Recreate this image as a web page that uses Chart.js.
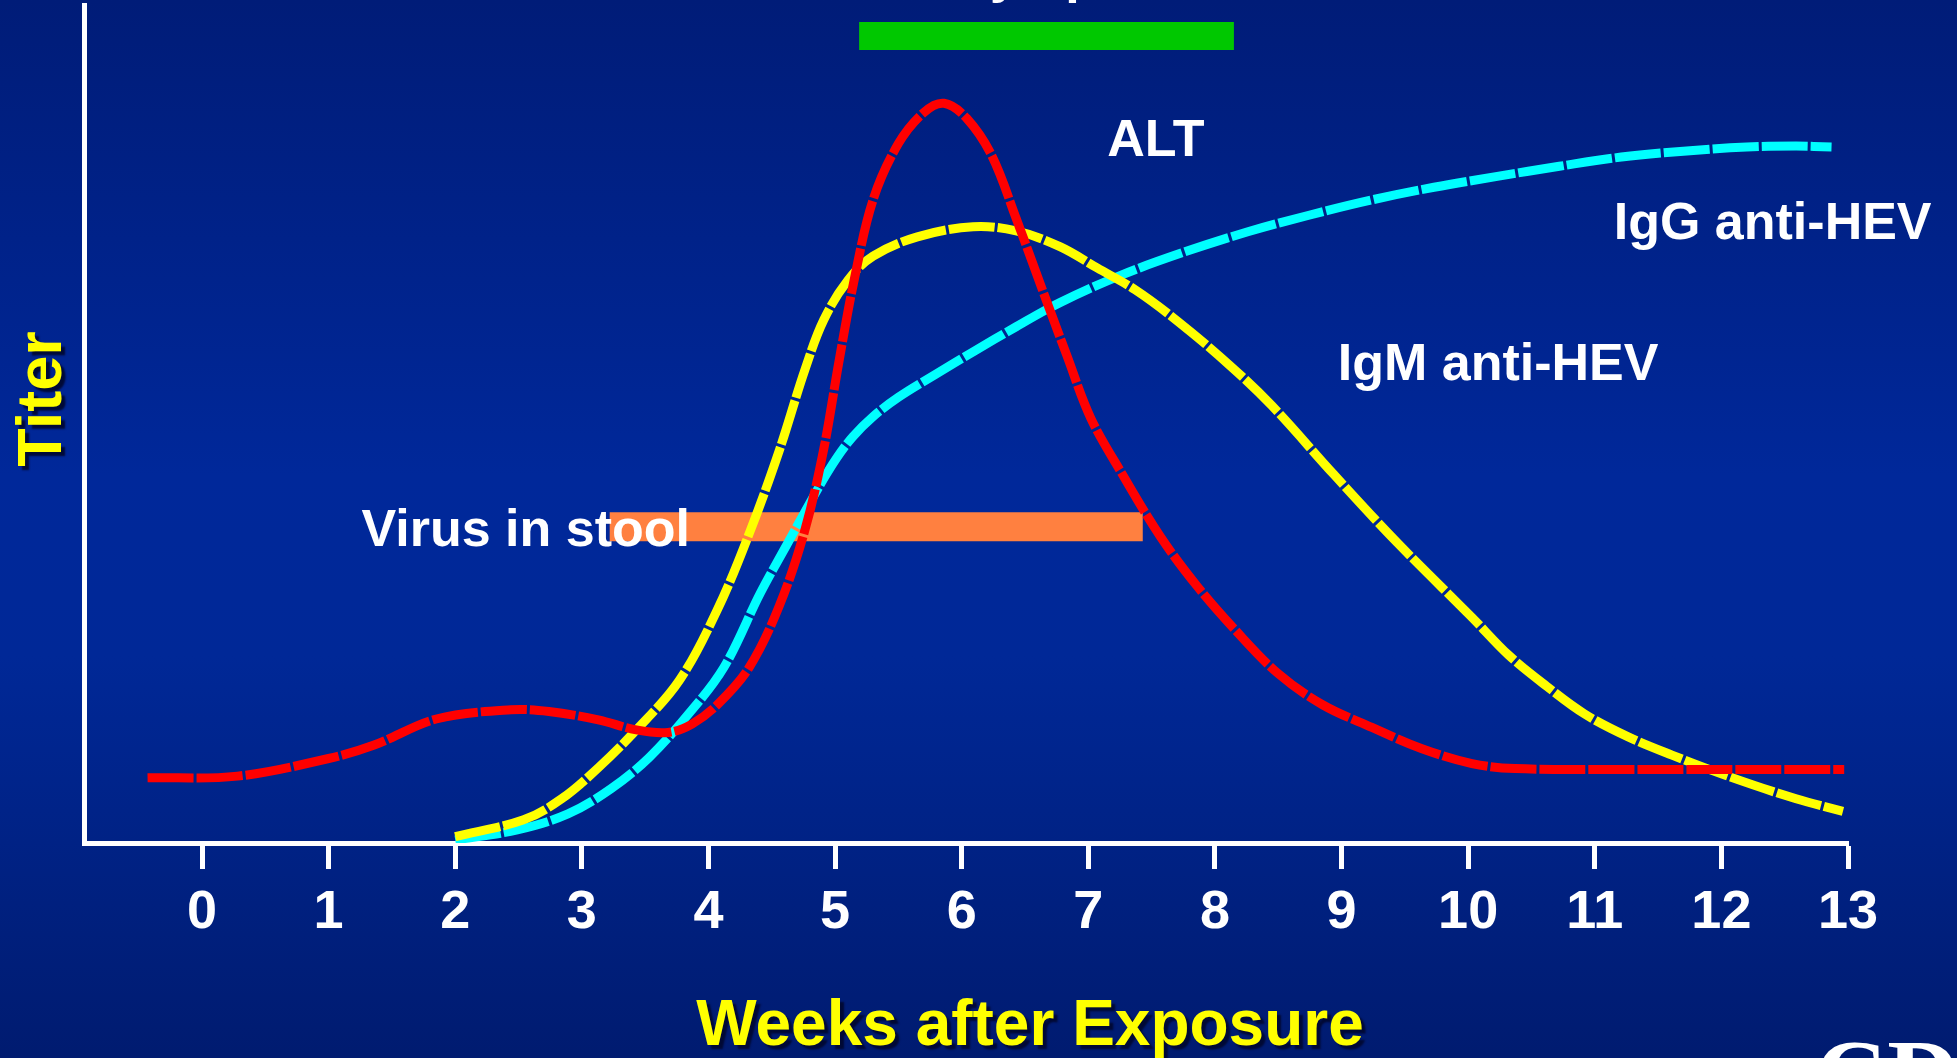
<!DOCTYPE html>
<html>
<head>
<meta charset="utf-8">
<title>Hepatitis E – typical serologic course</title>
<script src="https://cdn.jsdelivr.net/npm/chart.js@4"></script>
<style>
  html, body { margin: 0; padding: 0; overflow: hidden; background: #00238c; }
  canvas { display: block; }
</style>
</head>
<body>
<canvas id="chart" width="1957" height="1058" style="width:1957px;height:1058px"></canvas>
<script>
// ---- data -------------------------------------------------------------
const weekTicks = [0, 1, 2, 3, 4, 5, 6, 7, 8, 9, 10, 11, 12, 13];

// ALT
const altWeeks = [-0.43, 0.28, 1.0, 1.36, 1.85, 2.44, 2.74, 3.13, 3.43, 3.68, 3.87, 4.07, 4.32, 4.56, 4.76, 4.91, 5.03, 5.15, 5.30, 5.50, 5.70, 5.86, 6.04, 6.24, 6.43, 6.63, 6.83, 7.02, 7.27, 7.57, 7.86, 8.16, 8.50, 8.85, 9.24, 9.63, 10.03, 10.37, 11.21, 12.97];
const altTiter = [8.0, 8.2, 10.3, 11.9, 15.0, 16.1, 15.9, 14.9, 13.7, 13.4, 14.4, 16.7, 21.1, 28.5, 37.4, 47.1, 57.5, 67.2, 76.8, 83.5, 87.2, 88.3, 86.5, 82.0, 74.6, 66.4, 58.3, 50.8, 44.1, 36.7, 30.8, 25.6, 20.4, 16.7, 14.0, 11.5, 9.7, 9.1, 9.0, 9.0];

// IgM anti-HEV
const igmWeeks = [2.0, 2.54, 2.84, 3.13, 3.43, 3.77, 4.07, 4.32, 4.56, 4.76, 4.91, 5.10, 5.30, 5.65, 6.09, 6.43, 6.78, 7.07, 7.37, 7.71, 8.11, 8.45, 8.94, 9.44, 10.03, 10.32, 10.62, 10.92, 11.26, 11.61, 12.05, 12.59, 12.96];
const igmTiter = [1.0, 3.0, 5.5, 9.2, 13.7, 19.6, 28.0, 37.0, 47.0, 56.5, 62.5, 67.2, 70.1, 72.4, 73.6, 73.1, 71.2, 68.7, 66.1, 62.3, 57.2, 52.3, 44.1, 36.0, 27.1, 22.6, 18.9, 15.6, 12.9, 10.7, 8.2, 5.5, 4.0];

// IgG anti-HEV
const iggWeeks = [2.0, 2.49, 2.89, 3.23, 3.53, 3.82, 4.12, 4.41, 4.61, 4.86, 5.01, 5.14, 5.30, 5.50, 5.79, 6.09, 6.43, 6.78, 7.27, 7.76, 8.26, 8.75, 9.24, 9.73, 10.23, 10.72, 11.21, 11.70, 12.20, 12.59, 12.87];
const iggTiter = [0.6, 1.8, 3.7, 6.7, 10.4, 15.2, 21.1, 30.0, 35.5, 42.3, 46.0, 48.6, 51.0, 53.3, 56.0, 58.7, 61.7, 64.6, 67.9, 70.6, 73.0, 75.0, 76.8, 78.3, 79.6, 80.8, 81.9, 82.6, 83.1, 83.2, 83.1];

// Periods (start week, end week) and the level the band is drawn at
const stoolWeeks = [3.22, 7.43];
const stoolLevel = [37.9, 37.9];
const symptomWeeks = [5.19, 8.15];
const symptomLevel = [96.3, 96.3];

// ---- text placed on the plot (week, titer of the text baseline) -------
const curveLabels = [
  { text: 'ALT',            week: 7.15,  titer: 82.0 },
  { text: 'IgG anti-HEV',   week: 11.15, titer: 72.1 },
  { text: 'IgM anti-HEV',   week: 8.97,  titer: 55.4 },
  { text: 'Virus in stool', week: 1.26,  titer: 35.6 },
  { text: 'Symptoms',       week: 5.95,  titer: 101.6 }
];

const toPoints = (xs, ys) => xs.map((v, i) => ({ x: v, y: ys[i] }));

const FONT = '"Liberation Sans", Arial, Helvetica, sans-serif';

const curveStyle = {
  borderWidth: 9,
  borderDash: [46, 3],
  borderCapStyle: 'butt',
  pointRadius: 0,
  tension: 0.35,
  fill: false
};

const bandStyle = {
  borderCapStyle: 'butt',
  pointRadius: 0,
  tension: 0,
  fill: false
};

// ---- background gradient ---------------------------------------------
const backdrop = {
  id: 'backdrop',
  beforeDraw(chart) {
    const { ctx, width, height } = chart;
    const g = ctx.createLinearGradient(0, 0, 0, height);
    g.addColorStop(0, '#001c78');
    g.addColorStop(0.45, '#00289a');
    g.addColorStop(0.62, '#002897');
    g.addColorStop(1, '#001b70');
    ctx.save();
    ctx.fillStyle = g;
    ctx.fillRect(0, 0, width, height);
    ctx.restore();
  }
};

// ---- labels and axis titles ------------------------------------------
const annotations = {
  id: 'annotations',
  afterDatasetsDraw(chart) {
    const { ctx, scales: { x, y } } = chart;
    ctx.save();
    ctx.fillStyle = '#ffffff';
    ctx.font = 'bold 52px ' + FONT;
    ctx.textAlign = 'left';
    ctx.textBaseline = 'alphabetic';
    for (const l of curveLabels) {
      ctx.fillText(l.text, x.getPixelForValue(l.week), y.getPixelForValue(l.titer));
    }
    ctx.restore();
  },
  afterDraw(chart) {
    const { ctx } = chart;
    ctx.save();
    ctx.fillStyle = '#ffff00';
    ctx.shadowColor = 'rgba(0, 8, 50, 0.95)';
    ctx.shadowOffsetX = 4;
    ctx.shadowOffsetY = 4;
    ctx.shadowBlur = 2;

    // horizontal axis title
    ctx.font = 'bold 64px ' + FONT;
    ctx.textAlign = 'center';
    ctx.textBaseline = 'alphabetic';
    ctx.fillText('Weeks after Exposure', 1030, 1045);

    // vertical axis title
    ctx.font = 'bold 63px ' + FONT;
    ctx.translate(61, 399);
    ctx.rotate(-Math.PI / 2);
    ctx.fillText('Titer', 0, 0);
    ctx.restore();

    // agency mark in the corner
    ctx.save();
    ctx.fillStyle = '#ffffff';
    ctx.font = 'bold 100px "Liberation Serif", "DejaVu Serif", serif';
    ctx.textAlign = 'left';
    ctx.textBaseline = 'alphabetic';
    ctx.fillText('CDC', 1815, 1108);
    ctx.restore();
  }
};

new Chart(document.getElementById('chart'), {
  type: 'line',
  data: {
    datasets: [
      Object.assign({ label: 'ALT', data: toPoints(altWeeks, altTiter), borderColor: '#ff0000', order: 1 }, curveStyle),
      Object.assign({ label: 'IgM anti-HEV', data: toPoints(igmWeeks, igmTiter), borderColor: '#ffff00', order: 2 }, curveStyle),
      Object.assign({ label: 'IgG anti-HEV', data: toPoints(iggWeeks, iggTiter), borderColor: '#00ffff', order: 3 }, curveStyle),
      Object.assign({ label: 'Virus in stool', data: toPoints(stoolWeeks, stoolLevel), borderColor: '#ff8040', borderWidth: 29, order: 5 }, bandStyle),
      Object.assign({ label: 'Symptoms', data: toPoints(symptomWeeks, symptomLevel), borderColor: '#00c800', borderWidth: 28, order: 5 }, bandStyle)
    ]
  },
  options: {
    responsive: false,
    animation: false,
    devicePixelRatio: 1,
    layout: { padding: { left: 84, right: 109, top: 5, bottom: 0 } },
    plugins: {
      legend: { display: false },
      tooltip: { enabled: false },
      title: { display: false }
    },
    scales: {
      x: {
        type: 'linear',
        position: 'bottom',
        min: -0.932,
        max: 13,
        afterBuildTicks(axis) { axis.ticks = weekTicks.map(v => ({ value: v })); },
        afterFit(axis) { axis.height = 215; },
        border: { display: true, color: '#ffffff', width: 5 },
        grid: {
          display: true,
          drawOnChartArea: false,
          drawTicks: true,
          tickLength: 26,
          tickWidth: 5,
          tickColor: '#ffffff',
          color: '#ffffff'
        },
        ticks: {
          autoSkip: false,
          maxRotation: 0,
          padding: 12,
          color: '#ffffff',
          font: { family: FONT, size: 54, weight: 'bold' },
          callback: v => String(v)
        }
      },
      y: {
        type: 'linear',
        position: 'left',
        min: 0.24,
        max: 100,
        afterFit(axis) { axis.width = 0; },
        border: { display: true, color: '#ffffff', width: 5 },
        grid: { display: false },
        ticks: { display: false }
      }
    }
  },
  plugins: [backdrop, annotations]
});
</script>
</body>
</html>
